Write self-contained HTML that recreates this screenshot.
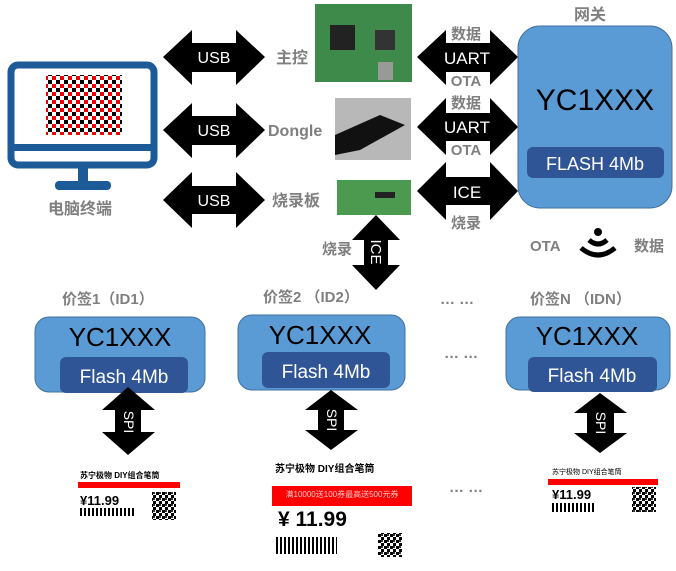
<!DOCTYPE html>
<html><head><meta charset="utf-8"><style>
body{margin:0;background:#fff;width:676px;height:566px;overflow:hidden}
svg text{font-family:"Liberation Sans","Noto Sans CJK SC",sans-serif}
</style></head><body>
<svg width="676" height="566" viewBox="0 0 676 566" xmlns="http://www.w3.org/2000/svg">
<defs>
<pattern id="chk" width="8" height="8" patternUnits="userSpaceOnUse">
<rect width="8" height="8" fill="#fff"/><rect width="4" height="4" fill="#000"/><rect x="4" y="4" width="4" height="4" fill="#e00"/>
</pattern>
<pattern id="bar" width="4" height="10" patternUnits="userSpaceOnUse"><rect width="2" height="10" fill="#000"/></pattern>
<pattern id="qr" width="6" height="6" patternUnits="userSpaceOnUse"><rect width="3" height="3" fill="#000"/><rect x="3" y="3" width="3" height="3" fill="#000"/><rect x="3" width="2" height="2" fill="#333"/></pattern>
</defs>
<!-- monitor -->
<rect x="11" y="65" width="143" height="100" rx="7" fill="none" stroke="#1d5b98" stroke-width="7"/>
<rect x="11" y="144" width="143" height="7" fill="#1d5b98"/>
<rect x="78" y="166" width="10" height="17" fill="#1d5b98"/>
<rect x="55" y="181" width="56" height="9" rx="4" fill="#1d5b98"/>
<rect x="46" y="75" width="76" height="60" fill="url(#chk)"/>
<text x="80" y="214" font-size="16" fill="#7f7f7f" text-anchor="middle" font-weight="bold">电脑终端</text>
<!-- USB arrows -->
<g fill="#000">
<polygon points="163,57 192,30 192,43 236,43 236,30 265,57 236,85 236,72 192,72 192,85"/>
<polygon points="163,130 192,103 192,116 236,116 236,103 265,130 236,158 236,145 192,145 192,158"/>
<polygon points="163,200 192,172 192,186 236,186 236,172 265,200 236,228 236,214 192,214 192,228"/>
</g>
<g fill="#fff" font-size="16" text-anchor="middle">
<text x="214" y="63">USB</text><text x="214" y="136">USB</text><text x="214" y="206">USB</text>
</g>
<g fill="#7f7f7f" font-size="16" font-weight="bold">
<text x="276" y="63">主控</text><text x="268" y="136">Dongle</text><text x="272" y="206">烧录板</text>
</g>
<!-- photos -->
<rect x="315" y="4" width="97" height="78" fill="#3d8a4a"/>
<rect x="330" y="25" width="25" height="25" fill="#222"/><rect x="375" y="30" width="20" height="20" fill="#333"/><rect x="378" y="62" width="15" height="18" fill="#999"/>
<rect x="335" y="98" width="76" height="62" fill="#b8b8b8"/>
<polygon points="335,135 380,115 405,125 360,150 335,155" fill="#111"/>
<rect x="337" y="180" width="74" height="35" fill="#4c9a50"/>
<rect x="375" y="192" width="20" height="6" fill="#222"/>
<!-- UART arrows -->
<g fill="#000">
<polygon points="417,57 446,30 446,43 490,43 490,30 518,57 490,85 490,72 446,72 446,85"/>
<polygon points="417,127 446,98 446,113 490,113 490,98 518,127 490,155 490,141 446,141 446,155"/>
<polygon points="417,191 446,162 446,177 490,177 490,162 518,191 490,220 490,205 446,205 446,220"/>
</g>
<g fill="#fff" font-size="17" text-anchor="middle">
<text x="467" y="64">UART</text><text x="467" y="133">UART</text><text x="467" y="198">ICE</text>
</g>
<g fill="#7f7f7f" font-size="15" font-weight="bold" text-anchor="middle">
<text x="466" y="39">数据</text><text x="466" y="86">OTA</text>
<text x="466" y="108">数据</text><text x="466" y="155">OTA</text>
<text x="466" y="228">烧录</text>
</g>
<!-- gateway -->
<text x="590" y="20" font-size="16" font-weight="bold" fill="#7f7f7f" text-anchor="middle">网关</text>
<rect x="518" y="26" width="154" height="182" rx="22" fill="#5b9bd5" stroke="#41719c"/>
<text x="595" y="110" font-size="30" fill="#000" text-anchor="middle">YC1XXX</text>
<rect x="527" y="147" width="137" height="31" rx="6" fill="#2f5597"/>
<text x="595" y="170" font-size="18" fill="#fff" text-anchor="middle">FLASH 4Mb</text>
<!-- wifi -->
<text x="530" y="251" font-size="15" font-weight="bold" fill="#7f7f7f">OTA</text>
<circle cx="598" cy="232" r="4" fill="#000"/>
<path d="M589,240 Q598,248 607,240" stroke="#000" stroke-width="5" fill="none"/>
<path d="M581,248 Q598,262 615,248" stroke="#000" stroke-width="5" fill="none"/>
<text x="634" y="251" font-size="15" font-weight="bold" fill="#7f7f7f">数据</text>
<!-- vertical ICE -->
<polygon points="376,215 400,240 388,240 388,265 400,265 376,290 352,265 364,265 364,240 352,240" fill="#000"/>
<text x="0" y="0" font-size="15" fill="#fff" text-anchor="middle" transform="translate(371,252) rotate(90)">ICE</text>
<text x="322" y="254" font-size="15" font-weight="bold" fill="#7f7f7f">烧录</text>
<!-- tag labels -->
<g fill="#7f7f7f" font-size="15" font-weight="bold">
<text x="62" y="304">价签1（ID1）</text><text x="263" y="302">价签2 （ID2）</text><text x="530" y="304">价签N （IDN）</text>
<text x="440" y="304">… …</text><text x="444" y="358">… …</text><text x="449" y="492">… …</text>
</g>
<!-- tag boxes -->
<rect x="35" y="317" width="170" height="75" rx="14" fill="#5b9bd5" stroke="#41719c"/>
<text x="120" y="346" font-size="26" text-anchor="middle">YC1XXX</text>
<rect x="60" y="357" width="128" height="36" rx="6" fill="#2f5597"/>
<text x="124" y="383" font-size="19" fill="#fff" text-anchor="middle">Flash 4Mb</text>
<rect x="238" y="315" width="167" height="75" rx="14" fill="#5b9bd5" stroke="#41719c"/>
<text x="320" y="344" font-size="26" text-anchor="middle">YC1XXX</text>
<rect x="262" y="352" width="128" height="36" rx="6" fill="#2f5597"/>
<text x="326" y="378" font-size="19" fill="#fff" text-anchor="middle">Flash 4Mb</text>
<rect x="506" y="317" width="164" height="73" rx="14" fill="#5b9bd5" stroke="#41719c"/>
<text x="587" y="345" font-size="26" text-anchor="middle">YC1XXX</text>
<rect x="528" y="357" width="129" height="35" rx="6" fill="#2f5597"/>
<text x="592" y="382" font-size="19" fill="#fff" text-anchor="middle">Flash 4Mb</text>
<!-- SPI -->
<g fill="#000">
<polygon points="128,387 155,410 141,410 141,432 155,432 128,455 102,432 115,432 115,410 102,410"/>
<polygon points="331,390 358,410 344,410 344,430 358,430 331,450 305,430 318,430 318,410 305,410"/>
<polygon points="600,393 627,413 614,413 614,433 627,433 600,453 574,433 587,433 587,413 574,413"/>
</g>
<g fill="#fff" font-size="14">
<text transform="translate(124,422) rotate(90)" text-anchor="middle">SPI</text>
<text transform="translate(327,420) rotate(90)" text-anchor="middle">SPI</text>
<text transform="translate(596,423) rotate(90)" text-anchor="middle">SPI</text>
</g>
<!-- price tags -->
<text x="80" y="478" font-size="8" font-weight="bold">苏宁极物 DIY组合笔筒</text>
<rect x="78" y="482" width="102" height="6" fill="#f00"/>
<text x="80" y="505" font-size="13" font-weight="bold">¥11.99</text>
<rect x="79" y="508" width="55" height="8" fill="url(#bar)"/>
<rect x="152" y="492" width="24" height="28" fill="url(#qr)"/>
<text x="275" y="472" font-size="10" font-weight="bold">苏宁极物 DIY组合笔筒</text>
<rect x="272" y="486" width="140" height="20" fill="#f00"/>
<text x="342" y="497" font-size="8" fill="#fcc" text-anchor="middle">满10000送100券最高送500元券</text>
<text x="278" y="526" font-size="21" font-weight="bold">¥ 11.99</text>
<rect x="275" y="537" width="62" height="17" fill="url(#bar)"/>
<rect x="378" y="533" width="24" height="24" fill="url(#qr)"/>
<text x="552" y="474" font-size="7">苏宁极物 DIY组合笔筒</text>
<rect x="548" y="479" width="110" height="6" fill="#f00"/>
<text x="552" y="499" font-size="13" font-weight="bold">¥11.99</text>
<rect x="550" y="503" width="45" height="9" fill="url(#bar)"/>
<rect x="632" y="487" width="24" height="25" fill="url(#qr)"/>
</svg>
</body></html>
